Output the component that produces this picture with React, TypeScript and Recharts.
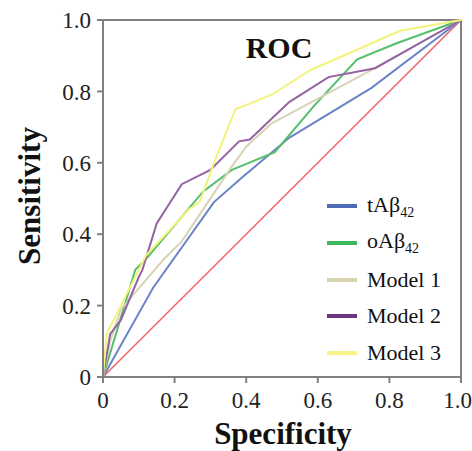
import React from "react"
import { Line, LineChart, ReferenceLine, XAxis, YAxis } from "recharts"

// values (x = 1 - specificity axis as drawn, y = sensitivity)
const ticks = [0, 0.2, 0.4, 0.6, 0.8, 1.0]

const tabX = [0, 0.14, 0.31, 0.39, 0.52, 0.75, 1]
const tabY = [0, 0.25, 0.49, 0.56, 0.67, 0.81, 1]

const oabX = [0, 0.09, 0.12, 0.28, 0.36, 0.48, 0.59, 0.71, 0.82, 1]
const oabY = [0, 0.3, 0.33, 0.52, 0.58, 0.63, 0.76, 0.89, 0.935, 1]

const m1X = [0, 0.02, 0.05, 0.17, 0.22, 0.36, 0.4, 0.47, 0.62, 0.74, 1]
const m1Y = [0, 0.1, 0.19, 0.33, 0.38, 0.59, 0.645, 0.71, 0.79, 0.855, 1]

const m2X = [0, 0.02, 0.05, 0.1, 0.11, 0.15, 0.22, 0.3, 0.38, 0.41, 0.52, 0.63, 0.76, 1]
const m2Y = [0, 0.12, 0.16, 0.28, 0.3, 0.43, 0.54, 0.58, 0.66, 0.665, 0.77, 0.84, 0.865, 1]

const m3X = [0, 0.01, 0.03, 0.12, 0.24, 0.27, 0.31, 0.37, 0.47, 0.58, 0.83, 1]
const m3Y = [0, 0.12, 0.16, 0.34, 0.47, 0.49, 0.6, 0.75, 0.79, 0.86, 0.97, 1]

const refX = [0, 1]
const refY = [0, 1]

const zip = (xs: number[], ys: number[]) => xs.map((x, i) => ({ x, y: ys[i] }))

const series = [
  { name: "tAβ", sub: "42", data: zip(tabX, tabY), color: "#6b84c8", legend: "#4f6ab8" },
  { name: "oAβ", sub: "42", data: zip(oabX, oabY), color: "#55bf6c", legend: "#3cb85a" },
  { name: "Model 1", sub: "", data: zip(m1X, m1Y), color: "#d8d3b6", legend: "#d6d2b0" },
  { name: "Model 2", sub: "", data: zip(m2X, m2Y), color: "#9563a4", legend: "#6e3580" },
  { name: "Model 3", sub: "", data: zip(m3X, m3Y), color: "#f3f37c", legend: "#f4f488" },
]

const font = "'Liberation Serif', 'DejaVu Serif', serif"
const fmt = (v: number) => (v === 0 ? "0" : v.toFixed(1))

export default function App() {
  return (
    <div style={{ position: "absolute", left: 0, top: 0, width: 472, height: 451, background: "#fff", fontFamily: font }}>
      <LineChart width={472} height={451} margin={{ top: 20, right: 11, bottom: 0, left: 43 }}>
        <XAxis
          type="number"
          dataKey="x"
          domain={[0, 1]}
          ticks={ticks}
          tickFormatter={fmt}
          height={74}
          stroke="#808080"
          strokeWidth={2}
          tickSize={6}
          tickMargin={9}
          tick={{ fill: "#222", fontSize: 23, fontFamily: font }}
        />
        <YAxis
          type="number"
          dataKey="y"
          domain={[0, 1]}
          ticks={ticks}
          tickFormatter={fmt}
          width={60}
          stroke="#808080"
          strokeWidth={2}
          tickSize={6}
          tickMargin={6}
          tick={{ fill: "#222", fontSize: 23, fontFamily: font }}
        />
        <ReferenceLine y={1} stroke="#808080" strokeWidth={2} />
        <ReferenceLine x={1} stroke="#808080" strokeWidth={2} />
        <Line data={zip(refX, refY)} dataKey="y" stroke="#f06868" strokeWidth={1.6} dot={false} isAnimationActive={false} />
        {series.map((s) => (
          <Line
            key={s.name + s.sub}
            data={s.data}
            dataKey="y"
            stroke={s.color}
            strokeWidth={2}
            dot={false}
            isAnimationActive={false}
          />
        ))}
      </LineChart>
      <div style={{ position: "absolute", left: 279, top: 48, transform: "translate(-50%, -50%)", fontSize: 30, fontWeight: "bold", color: "#111" }}>
        ROC
      </div>
      <div style={{ position: "absolute", left: 283, top: 434, transform: "translate(-50%, -50%)", fontSize: 31, fontWeight: "bold", color: "#111", whiteSpace: "nowrap" }}>
        Specificity
      </div>
      <div style={{ position: "absolute", left: 30, top: 196, transform: "translate(-50%, -50%) rotate(-90deg)", fontSize: 31, fontWeight: "bold", color: "#111", whiteSpace: "nowrap" }}>
        Sensitivity
      </div>
      <div style={{ position: "absolute", left: 327, top: 188 }}>
        {series.map((s) => (
          <div key={s.name + s.sub} style={{ display: "flex", alignItems: "center", height: 36.7 }}>
            <div style={{ width: 30, height: 4, background: s.legend, marginRight: 10 }} />
            <span style={{ fontSize: 22, color: "#111", whiteSpace: "nowrap" }}>
              {s.name}
              {s.sub && <sub style={{ fontSize: 14 }}>{s.sub}</sub>}
            </span>
          </div>
        ))}
      </div>
    </div>
  )
}
